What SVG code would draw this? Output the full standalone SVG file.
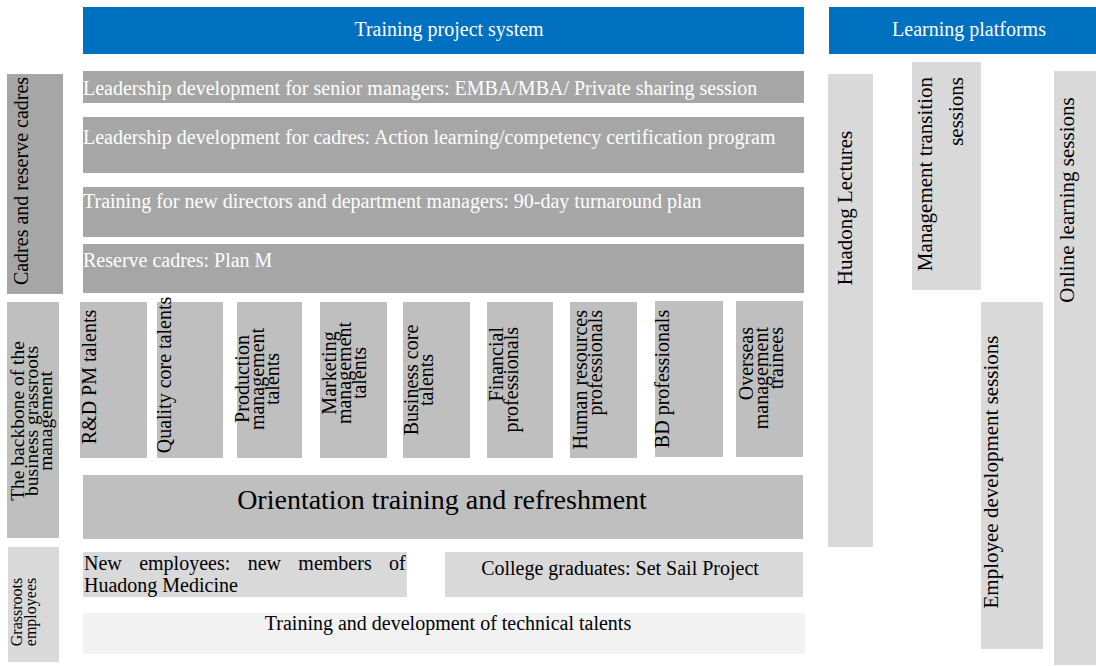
<svg xmlns="http://www.w3.org/2000/svg" width="1096" height="666" viewBox="0 0 1096 666">
<style>
text{font-family:"Liberation Serif","Times New Roman",serif;font-size:20px;fill:#000}
.blue{fill:#0070c0}
.dark{fill:#a6a6a6}
.mid{fill:#bfbfbf}
.light{fill:#d9d9d9}
.pale{fill:#f2f2f2}
.w{fill:#fff}
.m{text-anchor:middle}
.e{text-anchor:end}
.r{font-size:21px}
</style>
<rect width="1096" height="666" fill="#fff"/>
<g id="header-training">
<rect class="blue" x="83" y="7" width="721" height="47"/>
<text class="w m" x="449" y="36">Training project system</text>
</g>
<g id="header-platforms">
<rect class="blue" x="829" y="7" width="267" height="47"/>
<text class="w m" x="969" y="36">Learning platforms</text>
</g>
<g id="cadres">
<rect class="dark" x="7" y="74" width="56" height="220"/>
<text class="m" transform="translate(28,181) rotate(-90)">Cadres and reserve cadres</text>
</g>
<g id="backbone">
<rect class="mid" x="7" y="302" width="52" height="236"/>
<text class="m" style="font-size:19.5px" transform="translate(23.5,421) rotate(-90)"><tspan x="0" y="0">The backbone of the</tspan><tspan x="0" y="14">business grassroots</tspan><tspan x="0" y="28">management</tspan></text>
</g>
<g id="grassroots">
<rect class="light" x="8" y="547" width="51" height="115"/>
<text class="m" style="font-size:16px" transform="translate(22,612) rotate(-90)"><tspan x="0" y="0">Grassroots</tspan><tspan x="0" y="14">employees</tspan></text>
</g>
<g id="senior">
<rect class="dark" x="83" y="71" width="721" height="32"/>
<text class="w" x="83" y="95">Leadership development for senior managers: EMBA/MBA/ Private sharing session</text>
</g>
<g id="cadres-dev">
<rect class="dark" x="83" y="117" width="721" height="56"/>
<text class="w" x="83" y="144">Leadership development for cadres: Action learning/competency certification program</text>
</g>
<g id="new-directors">
<rect class="dark" x="83" y="187" width="721" height="50"/>
<text class="w" x="83" y="208">Training for new directors and department managers: 90-day turnaround plan</text>
</g>
<g id="reserve">
<rect class="dark" x="83" y="244" width="721" height="49"/>
<text class="w" x="83" y="267">Reserve cadres: Plan M</text>
</g>
<g id="rd">
<rect class="mid" x="80" y="302" width="67" height="156"/>
<text class="m" transform="translate(96,377) rotate(-90)">R&amp;D PM talents</text>
</g>
<g id="quality">
<rect class="mid" x="157" y="302" width="66" height="156"/>
<text class="m" transform="translate(171,375) rotate(-90)">Quality core talents</text>
</g>
<g id="production">
<rect class="mid" x="237" y="302" width="65" height="156"/>
<text class="m" transform="translate(249,379) rotate(-90)"><tspan x="0" y="0">Production</tspan><tspan x="0" y="15">management</tspan><tspan x="0" y="30">talents</tspan></text>
</g>
<g id="marketing">
<rect class="mid" x="320" y="302" width="67" height="156"/>
<text class="m" transform="translate(336,373) rotate(-90)"><tspan x="0" y="0">Marketing</tspan><tspan x="0" y="15">management</tspan><tspan x="0" y="30">talents</tspan></text>
</g>
<g id="business">
<rect class="mid" x="403" y="302" width="67" height="156"/>
<text class="m" transform="translate(418,380) rotate(-90)"><tspan x="0" y="0">Business core</tspan><tspan x="0" y="15">talents</tspan></text>
</g>
<g id="financial">
<rect class="mid" x="487" y="302" width="66" height="156"/>
<text class="e" transform="translate(503,327) rotate(-90)"><tspan x="0" y="0">Financial</tspan><tspan x="0" y="15">professionals</tspan></text>
</g>
<g id="hr">
<rect class="mid" x="570" y="302" width="67" height="156"/>
<text class="e" transform="translate(587,310) rotate(-90)"><tspan x="0" y="0">Human resources</tspan><tspan x="0" y="15">professionals</tspan></text>
</g>
<g id="bd">
<rect class="mid" x="655" y="301" width="68" height="156"/>
<text class="m" transform="translate(669,379) rotate(-90)">BD professionals</text>
</g>
<g id="overseas">
<rect class="mid" x="736" y="301" width="67" height="156"/>
<text class="e" transform="translate(753,327) rotate(-90)"><tspan x="0" y="0">Overseas</tspan><tspan x="0" y="15">management</tspan><tspan x="0" y="30">trainees</tspan></text>
</g>
<g id="orientation">
<rect class="mid" x="83" y="475" width="720" height="64"/>
<text class="m" style="font-size:28px" x="442" y="509">Orientation training and refreshment</text>
</g>
<g id="new-employees">
<rect class="light" x="83" y="552" width="324" height="45"/>
<text x="84" y="570" word-spacing="12.4">New employees: new members of</text>
<text x="84" y="592">Huadong Medicine</text>
</g>
<g id="college">
<rect class="light" x="445" y="552" width="358" height="45"/>
<text class="m" x="620" y="575">College graduates: Set Sail Project</text>
</g>
<g id="technical">
<rect class="pale" x="83" y="613" width="722" height="41"/>
<text class="m" x="448" y="630">Training and development of technical talents</text>
</g>
<g id="huadong-lectures">
<rect class="light" x="828" y="74" width="45" height="473"/>
<text class="m r" transform="translate(852,208) rotate(-90)">Huadong Lectures</text>
</g>
<g id="management-transition">
<rect class="light" x="912" y="62" width="69" height="228"/>
<text class="e r" transform="translate(932,77) rotate(-90)"><tspan x="0" y="0">Management transition</tspan><tspan x="0" y="31">sessions</tspan></text>
</g>
<g id="employee-development">
<rect class="light" x="981" y="302" width="62" height="347"/>
<text class="m r" transform="translate(998,472) rotate(-90)">Employee development sessions</text>
</g>
<g id="online-learning">
<rect class="light" x="1054" y="71" width="42" height="594"/>
<text class="m r" transform="translate(1074,200) rotate(-90)">Online learning sessions</text>
</g>
<g id="connectors"></g>
</svg>
